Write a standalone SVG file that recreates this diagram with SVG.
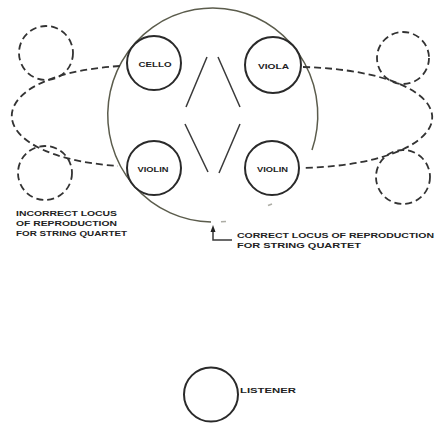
<svg xmlns="http://www.w3.org/2000/svg" width="435" height="425" viewBox="0 0 435 425">
<style>
.inst{fill:#fff;stroke:#2a2a2a;stroke-width:2}
.dash{fill:none;stroke:#333;stroke-width:1.8;stroke-dasharray:7 4}
.locus{fill:none;stroke:#5b5c4c;stroke-width:1.5}
.ln{fill:none;stroke:#3a3a3a;stroke-width:1.5}
.lbl{font-family:"Liberation Sans",Arial,sans-serif;font-weight:bold;fill:#222}
.sm{font-size:7px;text-anchor:middle}
.cap{font-size:8px}
</style>
<rect width="435" height="425" fill="#fff"/>
<g id="correct-locus">
<path class="locus" d="M312,150 A105,107 0 1 0 211,222"/>
<path class="locus" d="M221,221.8 L226,221.4" stroke-opacity="0.5"/>
<path class="locus" d="M268,205.5 L272,204" stroke-opacity="0.5"/>
</g>
<g id="connectors">
<path class="dash" d="M120,66 C-24,75 -24,156 118,166"/>
<path class="dash" d="M303,67 C475,72 475,162 305,168"/>
<path class="ln" d="M207,57 L186,107 M185,124 L208,172 M218,57 L240,107 M240,124 L219,173"/>
<path class="ln" d="M213,231 L213,240 L232,240"/>
<polygon points="213,225 210.5,232 215.5,232" fill="#222"/>
</g>
<g id="incorrect-left-top"><circle class="dash" cx="46" cy="53" r="27"/></g>
<g id="incorrect-left-bottom"><circle class="dash" cx="45" cy="173" r="27"/></g>
<g id="incorrect-right-top"><circle class="dash" cx="403" cy="58" r="26"/></g>
<g id="incorrect-right-bottom"><circle class="dash" cx="403" cy="177" r="27"/></g>
<g id="cello"><circle class="inst" cx="154" cy="63" r="27"/><text class="lbl sm" x="155" y="66.5" textLength="33" lengthAdjust="spacingAndGlyphs">CELLO</text></g>
<g id="violin-left"><circle class="inst" cx="154" cy="168" r="27"/><text class="lbl sm" x="153" y="171.5" textLength="31" lengthAdjust="spacingAndGlyphs">VIOLIN</text></g>
<g id="viola"><circle class="inst" cx="273" cy="65" r="28"/><text class="lbl sm" x="273.5" y="68.5" textLength="31" lengthAdjust="spacingAndGlyphs">VIOLA</text></g>
<g id="violin-right"><circle class="inst" cx="272" cy="168" r="27"/><text class="lbl sm" x="272.5" y="171.5" textLength="31" lengthAdjust="spacingAndGlyphs">VIOLIN</text></g>
<g id="incorrect-label">
<text class="lbl cap" x="16" y="216" textLength="101" lengthAdjust="spacingAndGlyphs">INCORRECT LOCUS</text>
<text class="lbl cap" x="16" y="226" textLength="101" lengthAdjust="spacingAndGlyphs">OF REPRODUCTION</text>
<text class="lbl cap" x="16" y="236" textLength="111" lengthAdjust="spacingAndGlyphs">FOR STRING QUARTET</text>
</g>
<g id="correct-label">
<text class="lbl cap" x="237" y="238" textLength="197" lengthAdjust="spacingAndGlyphs">CORRECT LOCUS OF REPRODUCTION</text>
<text class="lbl cap" x="237" y="247.5" textLength="124" lengthAdjust="spacingAndGlyphs">FOR STRING QUARTET</text>
</g>
<g id="listener">
<circle cx="211" cy="394.5" r="27" fill="none" stroke="#2a2a2a" stroke-width="2"/>
<text class="lbl cap" x="240" y="392.5" textLength="56" lengthAdjust="spacingAndGlyphs">LISTENER</text>
</g>
</svg>
